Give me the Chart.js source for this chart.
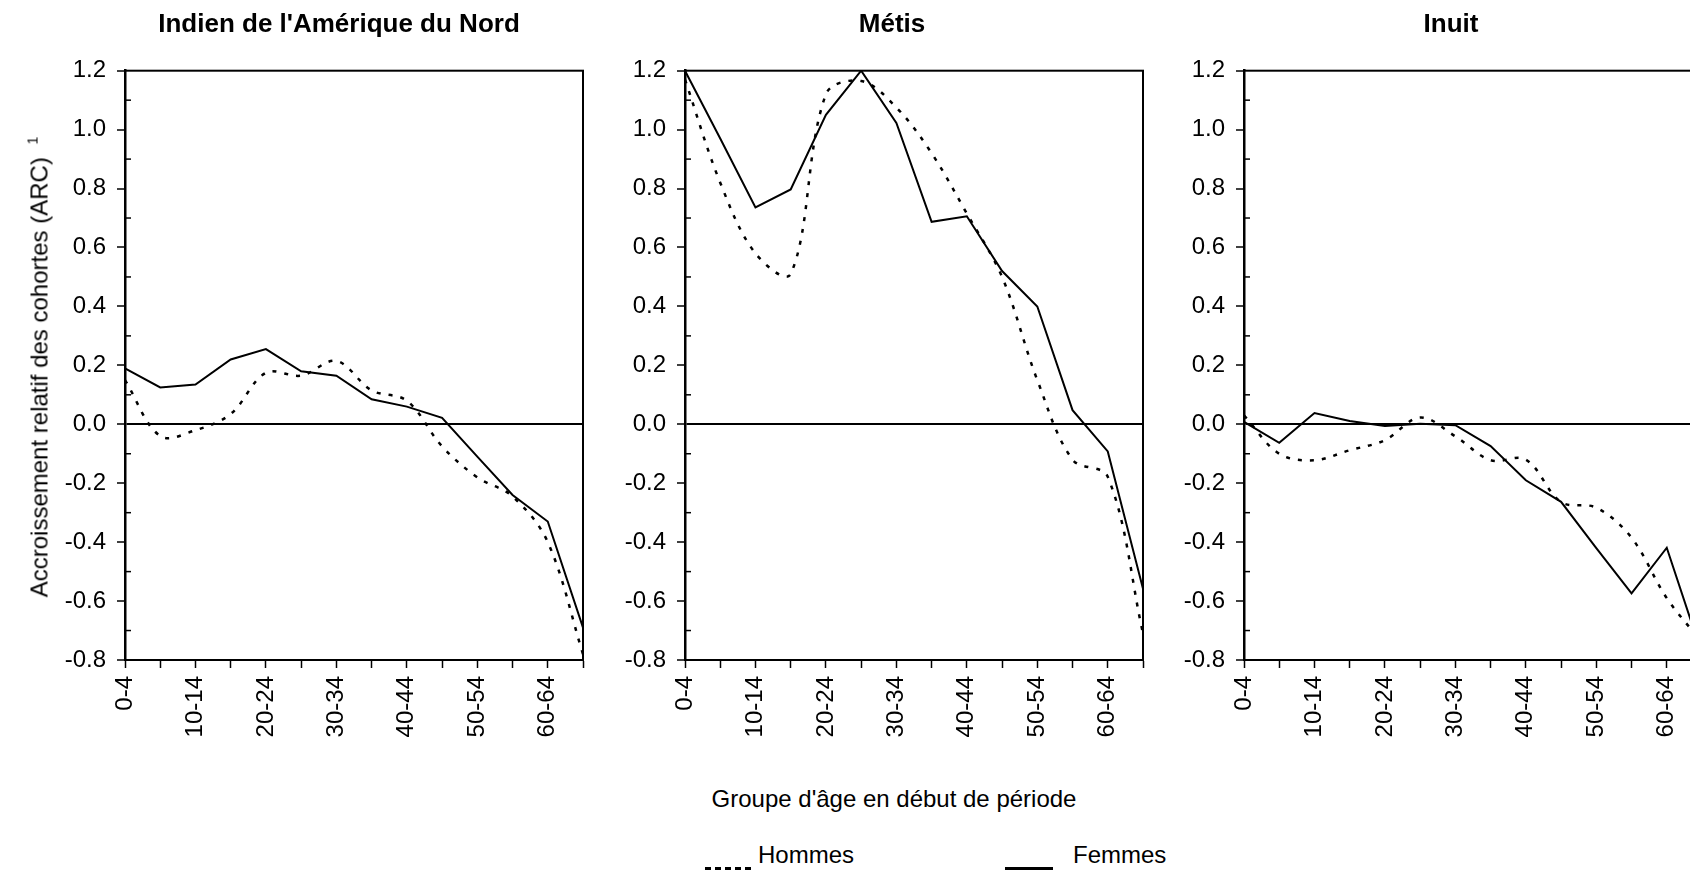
<!DOCTYPE html>
<html lang="fr">
<head>
<meta charset="utf-8">
<title>Accroissement relatif des cohortes (ARC)</title>
<script src="https://cdn.jsdelivr.net/npm/chart.js@4.4.0/dist/chart.umd.min.js"></script>
<style>
  html, body { margin: 0; padding: 0; background: #fff; overflow: hidden; }
  body { width: 1690px; height: 870px; position: relative; font-family: "Liberation Sans", Arial, sans-serif; color: #000; }
  canvas { position: absolute; top: 0; }
  .texte { position: absolute; font-size: 24px; line-height: 24px; white-space: nowrap; }
  .centre { transform: translate(-50%, -50%); }
  #titreY { left: 36px; top: 367px; transform: translate(-50%, -50%) rotate(-90deg); }
  #titreY sup { font-size: 14px; vertical-align: 10px; margin-left: 6px; }
  .trait { position: absolute; height: 3px; }
</style>
</head>
<body>
<canvas id="graphique1" width="558" height="750" style="left:45px"></canvas>
<canvas id="graphique2" width="558" height="750" style="left:605px"></canvas>
<canvas id="graphique3" width="558" height="750" style="left:1164px"></canvas>

<div id="titreY" class="texte">Accroissement relatif des cohortes (ARC) <sup>1</sup></div>
<div class="texte centre" style="left:894px; top:799px">Groupe d'âge en début de période</div>

<!-- légende -->
<div class="trait" style="left:705px; top:867px; width:48px; background: repeating-linear-gradient(to right, #000 0 6px, transparent 6px 10px);"></div>
<div class="texte" style="left:758px; top:843px">Hommes</div>
<div class="trait" style="left:1005px; top:867px; width:48px; background:#000;"></div>
<div class="texte" style="left:1073px; top:843px">Femmes</div>

<script>
// Groupes d'âge en début de période
const groupesAge = ['0-4', '5-9', '10-14', '15-19', '20-24', '25-29', '30-34',
                    '35-39', '40-44', '45-49', '50-54', '55-59', '60-64', '65-69'];

const titres = ["Indien de l'Amérique du Nord", 'Métis', 'Inuit'];

// ARC par sexe
const indienHommes = [0.15, -0.04, -0.02, 0.035, 0.175, 0.165, 0.215, 0.115, 0.08, -0.075, -0.18, -0.245, -0.40, -0.78];
const indienFemmes = [0.19, 0.125, 0.135, 0.22, 0.255, 0.18, 0.165, 0.085, 0.06, 0.022, -0.11, -0.24, -0.33, -0.69];
const metisHommes  = [1.17, 0.82, 0.58, 0.51, 1.12, 1.165, 1.075, 0.92, 0.715, 0.50, 0.15, -0.12, -0.178, -0.71];
const metisFemmes  = [1.20, 0.97, 0.736, 0.797, 1.05, 1.20, 1.023, 0.687, 0.706, 0.52, 0.40, 0.048, -0.092, -0.558];
const inuitHommes  = [0.03, -0.10, -0.122, -0.088, -0.054, 0.023, -0.041, -0.122, -0.12, -0.264, -0.283, -0.385, -0.59, -0.74];
const inuitFemmes  = [0.008, -0.063, 0.038, 0.011, -0.006, 0.002, -0.003, -0.074, -0.19, -0.263, -0.42, -0.574, -0.419, -0.78];

const yMin = -0.8;
const yMax = 1.2;

const police = '"Liberation Sans", Arial, sans-serif';

// graduation principale tous les 0.2
function estMajeure(v) {
    return Math.abs(Math.round(v * 10)) % 2 === 0;
}

// cadre autour de la zone de tracé + petites graduations intérieures
const cadre = {
    id: 'cadre',
    afterDraw: function(chart) {
        const ctx = chart.ctx;
        const a = chart.chartArea;
        const y = chart.scales.y;
        ctx.save();
        ctx.strokeStyle = '#000';
        ctx.lineWidth = 2;
        ctx.strokeRect(a.left, a.top, a.right - a.left, a.bottom - a.top);
        ctx.lineWidth = 1.5;
        y.ticks.forEach(function(t) {
            if (!estMajeure(t.value)) {
                const py = y.getPixelForValue(t.value);
                ctx.beginPath();
                ctx.moveTo(a.left, py);
                ctx.lineTo(a.left + 6, py);
                ctx.stroke();
            }
        });
        ctx.restore();
    }
};

// le titre est centré sur la zone de tracé et une partie des étiquettes de l'axe Y
const recentrerTitre = {
    id: 'recentrerTitre',
    afterLayout: function(chart, args, opts) {
        const t = chart.titleBlock;
        if (t) {
            t.left = chart.chartArea.left - opts.marge;
            t.right = chart.chartArea.right;
        }
    }
};

function creerGraphique(id, titre, hommes, femmes, margeTitre) {
    const ctx = document.getElementById(id).getContext('2d');
    const config = {
        type: 'line',
        data: {
            labels: groupesAge,
            datasets: [{
                label: 'Hommes',
                data: hommes,
                borderColor: '#000',
                borderWidth: 2.5,
                borderDash: [4, 8],
                tension: 0.35,
                pointRadius: 0,
                fill: false
            }, {
                label: 'Femmes',
                data: femmes,
                borderColor: '#000',
                borderWidth: 2,
                tension: 0,
                pointRadius: 0,
                fill: false
            }]
        },
        options: {
            responsive: false,
            animation: false,
            layout: { padding: { left: 10, right: 20, top: 0, bottom: 0 } },
            plugins: {
                legend: { display: false },
                tooltip: { enabled: false },
                recentrerTitre: { marge: margeTitre },
                title: {
                    display: true,
                    text: titre,
                    color: '#000',
                    font: { family: police, size: 26, weight: 'bold' },
                    padding: { top: 9, bottom: 30.5 }
                }
            },
            scales: {
                x: {
                    offset: false,
                    afterFit: function(scale) {
                        scale.height = 90;
                        scale.paddingLeft = 0;
                        scale.paddingRight = 0;
                    },
                    border: { color: '#000', width: 2 },
                    grid: { drawOnChartArea: false, tickLength: 8, tickColor: '#000', tickWidth: 1.5 },
                    ticks: {
                        color: '#000',
                        font: { family: police, size: 24 },
                        autoSkip: false,
                        minRotation: 90,
                        maxRotation: 90,
                        padding: 8,
                        callback: function(val, index) {
                            return index % 2 === 0 ? this.getLabelForValue(val) : '';
                        }
                    }
                },
                y: {
                    min: yMin,
                    max: yMax,
                    afterFit: function(scale) { scale.width = 70; },
                    border: { color: '#000', width: 2.5 },
                    grid: {
                        color: function(c) {
                            return c.tick && Math.abs(c.tick.value) < 1e-9 ? '#000' : 'rgba(0,0,0,0)';
                        },
                        lineWidth: 2,
                        tickLength: 8,
                        tickColor: function(c) {
                            return c.tick && estMajeure(c.tick.value) ? '#000' : 'rgba(0,0,0,0)';
                        },
                        tickWidth: 1.5
                    },
                    ticks: {
                        stepSize: 0.1,
                        autoSkip: false,
                        color: '#000',
                        font: { family: police, size: 24 },
                        padding: 11,
                        callback: function(v) {
                            return estMajeure(v) ? v.toFixed(1) : '';
                        }
                    }
                }
            }
        },
        plugins: [cadre, recentrerTitre]
    };
    return new Chart(ctx, config);
}

creerGraphique('graphique1', titres[0], indienHommes, indienFemmes, 30);
creerGraphique('graphique2', titres[1], metisHommes, metisFemmes, 44);
creerGraphique('graphique3', titres[2], inuitHommes, inuitFemmes, 44);
</script>
</body>
</html>
